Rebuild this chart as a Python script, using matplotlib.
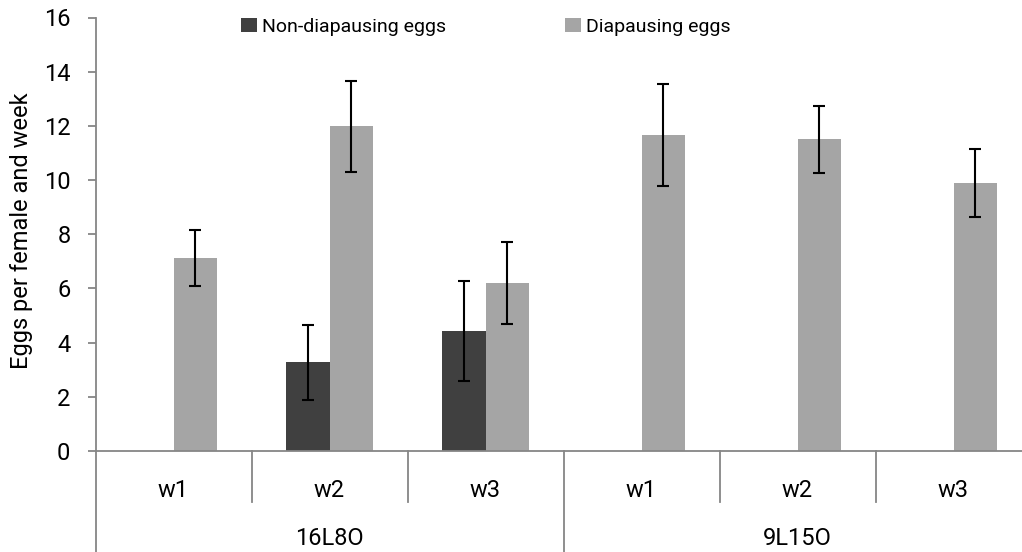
import matplotlib
matplotlib.use("Agg")
import matplotlib.pyplot as plt
import matplotlib.transforms as mtransforms
from matplotlib.lines import Line2D
import numpy as np

plt.rcParams['font.family'] = ['Roboto', 'DejaVu Sans']

# Data
groups = ["16L8O", "9L15O"]
weeks = ["w1", "w2", "w3"]
non_diapausing = [0.0, 3.28, 4.43, 0.0, 0.0, 0.0]
non_diapausing_err = [np.nan, 1.38, 1.83, np.nan, np.nan, np.nan]
diapausing = [7.11, 11.98, 6.20, 11.67, 11.50, 9.89]
diapausing_err = [1.03, 1.69, 1.50, 1.88, 1.23, 1.24]
series_names = ["Non-diapausing eggs", "Diapausing eggs"]
yticks = [0, 2, 4, 6, 8, 10, 12, 14, 16]

W, H = 1022, 552
fig = plt.figure(figsize=(W / 100, H / 100), dpi=100)

# plot area in pixels: left edge, zero line, top, and width of one category
left_px, zero_px, top_px, cat_px = 95.5, 451.0, 17.5, 156.0
n = len(diapausing)
ax_w_px = n * cat_px
ax = fig.add_axes([left_px / W, 1 - zero_px / H,
                   ax_w_px / W, (zero_px - top_px) / H])

x = np.arange(n)
bw = 0.282
dark = "#404040"
light = "#A5A5A5"
ax.bar(x - bw / 2, non_diapausing, bw, color=dark, label=series_names[0], zorder=2)
ax.bar(x + bw / 2, diapausing, bw, color=light, label=series_names[1], zorder=2)
err_style = dict(fmt="none", ecolor="black", elinewidth=1.5, capsize=4.5,
                 capthick=1.5, zorder=3)
ax.errorbar(x - bw / 2, non_diapausing, yerr=non_diapausing_err, **err_style)
ax.errorbar(x + bw / 2, diapausing, yerr=diapausing_err, **err_style)

ax.set_xlim(-0.5, n - 0.5)
ax.set_ylim(0, 16)
ax.set_yticks(yticks)
ax.set_yticklabels([str(t) for t in yticks])
ax.set_xticks([])

axis_grey = "#868686"
for s in ("top", "right"):
    ax.spines[s].set_visible(False)
for s in ("left", "bottom"):
    ax.spines[s].set_color(axis_grey)
    ax.spines[s].set_linewidth(1.3)
ax.tick_params(axis="y", direction="out", length=6, width=1.3, color=axis_grey,
               labelsize=17, pad=12, labelcolor="black")

ax.set_ylabel("Eggs per female and week", fontsize=17)
ax.yaxis.set_label_coords((33 - left_px) / ax_w_px, (zero_px - 231) / (zero_px - top_px))

# two-level category axis below the plot
trans = mtransforms.blended_transform_factory(ax.transData, fig.transFigure)
y_zero = 1 - zero_px / H
y_inner = 1 - 502 / H
for i in range(n + 1):
    xb = i - 0.5
    is_group_edge = (i % len(weeks) == 0)
    y_end = 0.0 if is_group_edge else y_inner
    fig.add_artist(Line2D([xb, xb], [y_zero, y_end], transform=trans,
                          color=axis_grey, lw=1.3, clip_on=False))
for i in range(n):
    fig.text(i, 1 - 497 / H, weeks[i % len(weeks)], transform=trans,
             ha="center", va="baseline", fontsize=17)
for g, name in enumerate(groups):
    xc = g * len(weeks) + (len(weeks) - 1) / 2
    fig.text(xc, 1 - 545 / H, name, transform=trans,
             ha="center", va="baseline", fontsize=17)

leg = ax.legend(ncol=2, frameon=False, fontsize=14, loc="center left",
                bbox_to_anchor=(241 / W, 1 - 27 / H), bbox_transform=fig.transFigure,
                handlelength=0.82, handleheight=0.75, handletextpad=0.26,
                columnspacing=6.1, borderaxespad=0, borderpad=0)

fig.savefig("out.png", dpi=100)
